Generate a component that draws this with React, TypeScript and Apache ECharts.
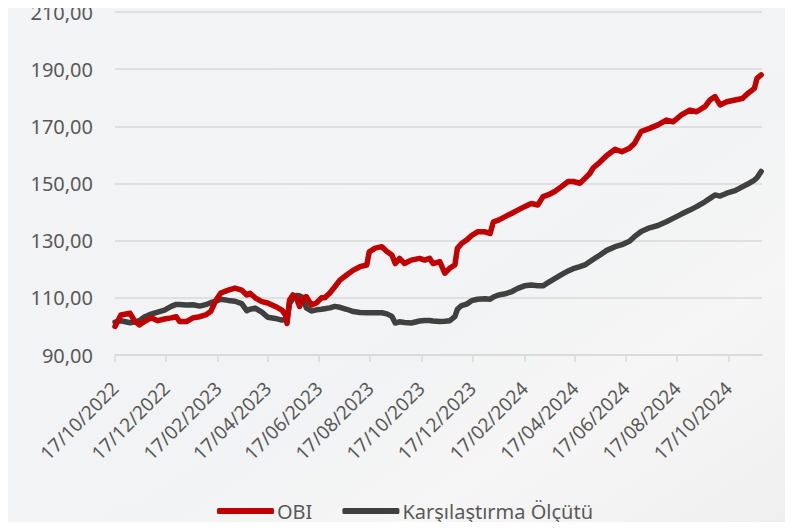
import React, { useEffect, useRef } from "react";
import * as echarts from "echarts";

const dates: string[] = [
  "2022-10-17","2022-10-24","2022-11-04","2022-11-09","2022-11-15","2022-11-21","2022-11-29","2022-12-07","2022-12-15","2022-12-23",
  "2022-12-29","2023-01-02","2023-01-10","2023-01-18","2023-01-26","2023-02-02","2023-02-08","2023-02-14","2023-02-20","2023-03-01",
  "2023-03-09","2023-03-17","2023-03-23","2023-03-27","2023-04-02","2023-04-10","2023-04-17","2023-04-26","2023-05-04","2023-05-08",
  "2023-05-10","2023-05-13","2023-05-17","2023-05-21","2023-05-25","2023-05-29","2023-06-02","2023-06-08","2023-06-14","2023-06-20",
  "2023-06-24","2023-06-30","2023-07-06","2023-07-12","2023-07-20","2023-07-28","2023-08-05","2023-08-13","2023-08-16","2023-08-23",
  "2023-08-31","2023-09-06","2023-09-12","2023-09-16","2023-09-21","2023-09-27","2023-10-05","2023-10-15","2023-10-21","2023-10-27",
  "2023-10-31","2023-11-08","2023-11-14","2023-11-20","2023-11-26","2023-11-29","2023-12-04","2023-12-10","2023-12-16","2023-12-23",
  "2024-01-01","2024-01-07","2024-01-11","2024-01-17","2024-01-25","2024-02-02","2024-02-09","2024-02-17","2024-02-25","2024-03-04",
  "2024-03-10","2024-03-16","2024-03-24","2024-04-01","2024-04-09","2024-04-15","2024-04-23","2024-04-29","2024-05-05","2024-05-09",
  "2024-05-17","2024-05-25","2024-06-04","2024-06-12","2024-06-21","2024-06-27","2024-07-05","2024-07-15","2024-07-25","2024-08-04",
  "2024-08-12","2024-08-22","2024-09-01","2024-09-09","2024-09-19","2024-09-25","2024-10-01","2024-10-07","2024-10-15","2024-10-25",
  "2024-11-03","2024-11-09","2024-11-17","2024-11-20","2024-11-25"
];

const obi: number[] = [
  100, 104, 104.6, 102, 100.5, 101.7, 103, 102, 102.6, 103,
  103.4, 101.7, 101.7, 103, 103.4, 104, 105.2, 109, 111.7, 112.7,
  113.4, 112.7, 111, 111.6, 110, 108.7, 108.2, 107, 105.7, 104,
  101, 109.2, 111, 110, 107, 110, 110.4, 107.5, 108.2, 110,
  110, 111.7, 113.9, 116.2, 118, 119.7, 120.9, 121.5, 126.1, 127.4,
  127.9, 126.2, 125, 122, 123.8, 122, 123.2, 123.8, 123.2, 123.8,
  122, 122.7, 118.6, 120.4, 121.5, 127.3, 129, 130.2, 131.8, 133.1,
  133.1, 132.5, 136.6, 137.2, 138.4, 139.6, 140.7, 141.9, 143, 142.5,
  145.4, 146, 147.2, 148.9, 150.7, 150.7, 150.1, 151.8, 153.6, 155.5,
  157.5, 159.8, 162, 161.1, 162.3, 164, 168.2, 169.3, 170.5, 172.2,
  171.6, 174, 175.7, 175.1, 176.9, 179.2, 180.4, 177.5, 178.6, 179.2,
  179.8, 181.5, 183.3, 186.8, 188
];

const benchmark: number[] = [
  101.5, 102, 101.3, 101.5, 102, 103.3, 104.3, 105, 105.7, 107,
  107.7, 107.7, 107.5, 107.6, 107.1, 107.6, 108.3, 108.8, 109.5, 109.1,
  108.8, 108, 105.5, 106, 106.4, 105, 103.2, 102.8, 102.2, 102.4,
  102.5, 108, 109.8, 110.8, 110.7, 110, 106.5, 105.4, 105.8, 106,
  106.2, 106.5, 107, 106.7, 106, 105.2, 104.9, 104.8, 104.8, 104.8,
  104.8, 104.4, 103.5, 101.2, 101.6, 101.4, 101.2, 101.9, 102.1, 102.1,
  101.9, 101.7, 101.8, 102, 103.4, 106, 107.3, 107.8, 109, 109.5,
  109.7, 109.5, 110.3, 111, 111.4, 112.2, 113.3, 114.2, 114.5, 114.2,
  114.2, 115.3, 116.7, 118.1, 119.4, 120.2, 120.9, 121.5, 122.7, 123.5,
  125, 126.6, 127.9, 128.6, 129.8, 131.4, 133.2, 134.5, 135.3, 136.6,
  137.8, 139.3, 140.7, 141.9, 143.6, 144.8, 146, 145.6, 146.6, 147.5,
  148.9, 149.8, 151.2, 152, 154.2
];

const tickDates: string[] = [
  "2022-10-17","2022-12-17","2023-02-17","2023-04-17","2023-06-17","2023-08-17","2023-10-17",
  "2023-12-17","2024-02-17","2024-04-17","2024-06-17","2024-08-17","2024-10-17"
];

const axisStart = "2022-10-17";
const axisEnd = "2024-11-26";
const yMin = 90;
const yMax = 210;
const yStep = 20;

const seriesNames = ["OBI", "Karşılaştırma Ölçütü"];

const toTs = (s: string) => {
  const [y, m, d] = s.split("-").map(Number);
  return Date.UTC(y, m - 1, d);
};
const pad = (n: number) => (n < 10 ? "0" + n : String(n));

export default function App() {
  const ref = useRef<HTMLDivElement>(null);
  useEffect(() => {
    if (!ref.current) return;
    const chart = echarts.init(ref.current, undefined, { renderer: "svg" });
    const font = "'Noto Sans', sans-serif";
    const textColor = "#595959";
    const ticks = tickDates.map(toTs);
    chart.setOption({
      animation: false,
      backgroundColor: {
        type: "linear", x: 0, y: 0, x2: 1, y2: 1,
        colorStops: [
          { offset: 0, color: "#f3f4f5" },
          { offset: 0.6, color: "#f2f3f4" },
          { offset: 0.75, color: "#f6f6f6" },
          { offset: 1, color: "#efeff0" },
        ],
      },
      textStyle: { fontFamily: font },
      grid: { left: 115, right: 31, top: 12, bottom: 175, containLabel: false },
      legend: {
        bottom: 4,
        left: 212,
        itemWidth: 57,
        itemHeight: 6,
        itemGap: 30,
        icon: "roundRect",
        textStyle: { color: textColor, fontSize: 20, fontFamily: font, padding: [0, 0, 0, -2] },
        data: seriesNames,
      },
      xAxis: {
        type: "value",
        min: toTs(axisStart),
        max: toTs(axisEnd),
        axisLine: { show: true, lineStyle: { color: "#d9d9d9", width: 1.5 } },
        axisTick: {
          show: true,
          length: 7,
          lineStyle: { color: "#d9d9d9", width: 1.5 },
          customValues: ticks,
        },
        splitLine: { show: false },
        axisLabel: {
          customValues: ticks,
          rotate: 45,
          margin: 30,
          color: textColor,
          fontSize: 19,
          fontFamily: font,
          formatter: (v: number) => {
            const d = new Date(v);
            return pad(d.getUTCDate()) + "/" + pad(d.getUTCMonth() + 1) + "/" + d.getUTCFullYear();
          },
        },
      },
      yAxis: {
        type: "value",
        min: yMin,
        max: yMax,
        interval: yStep,
        axisLine: { show: false },
        axisTick: { show: false },
        splitLine: { lineStyle: { color: "#d9d9d9", width: 1.5 } },
        axisLabel: {
          margin: 22,
          color: textColor,
          fontSize: 20,
          fontFamily: font,
          formatter: (v: number) => v.toFixed(2).replace(".", ","),
        },
      },
      series: [
        {
          name: seriesNames[0],
          type: "line",
          data: dates.map((d, i) => [toTs(d), obi[i]]),
          showSymbol: false,
          symbol: "none",
          lineStyle: { color: "#c00000", width: 5.5, join: "round", cap: "round" },
          itemStyle: { color: "#c00000" },
          z: 3,
        },
        {
          name: seriesNames[1],
          type: "line",
          data: dates.map((d, i) => [toTs(d), benchmark[i]]),
          showSymbol: false,
          symbol: "none",
          lineStyle: { color: "#404040", width: 5.5, join: "round", cap: "round" },
          itemStyle: { color: "#404040" },
          z: 2,
        },
      ],
    });
    return () => chart.dispose();
  }, []);
  return <div ref={ref} style={{ width: 793, height: 530, margin: -8 }} />;
}
